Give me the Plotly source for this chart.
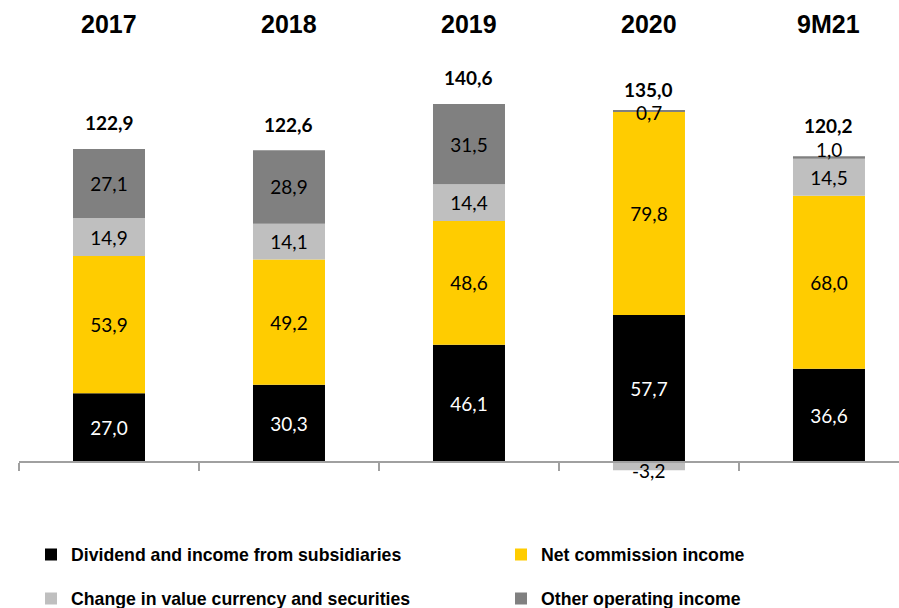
import plotly.graph_objects as go

# Operating income breakdown by period
categories = ["2017", "2018", "2019", "2020", "9M21"]
dividend_income = [27.0, 30.3, 46.1, 57.7, 36.6]
net_commission = [53.9, 49.2, 48.6, 79.8, 68.0]
change_in_value = [14.9, 14.1, 14.4, -3.2, 14.5]
other_operating = [27.1, 28.9, 31.5, 0.7, 1.0]
totals = [122.9, 122.6, 140.6, 135.0, 120.2]

series = [
    ("Dividend and income from subsidiaries", dividend_income, "#000000", "#ffffff"),
    ("Net commission income", net_commission, "#ffcc00", "#000000"),
    ("Change in value currency and securities", change_in_value, "#bfbfbf", "#000000"),
    ("Other operating income", other_operating, "#808080", "#000000"),
]

VALUE_FONT = "Lato, Noto Sans, sans-serif"
HEAD_FONT = "Liberation Sans, Arial, sans-serif"
SMALL = 5.0  # segments thinner than this get their label outside the bar


def fmt(v):
    return f"{v:.1f}".replace(".", ",")


legend_ids = ["legend", "legend2", "legend3", "legend4"]

fig = go.Figure()
for (name, vals, color, txtcolor), leg in zip(series, legend_ids):
    fig.add_trace(go.Bar(
        name=name,
        x=categories,
        y=vals,
        width=0.4,
        marker=dict(color=color, line=dict(width=0)),
        text=["" if abs(v) < SMALL else fmt(v) for v in vals],
        textposition="inside",
        insidetextanchor="middle",
        constraintext="none",
        textangle=0,
        textfont=dict(family=VALUE_FONT, size=19, color=txtcolor),
        legend=leg,
        hoverinfo="skip",
    ))

# cumulative stack ends (positive and negative stacks kept apart)
pos_top = [0.0] * len(categories)
neg_bottom = [0.0] * len(categories)
small_shift = {(3, 3): -2, (3, 4): 7, (2, 3): 0}
annotations = []
for si, (name, vals, color, txtcolor) in enumerate(series):
    for ci, v in enumerate(vals):
        if v >= 0:
            pos_top[ci] += v
            end = pos_top[ci]
        else:
            neg_bottom[ci] += v
            end = neg_bottom[ci]
        if abs(v) < SMALL:
            annotations.append(dict(
                x=ci, y=end, xref="x", yref="y",
                text=fmt(v), showarrow=False, yanchor="middle",
                yshift=small_shift.get((si, ci), 0),
                font=dict(family=VALUE_FONT, size=19, color="#000000"),
            ))

# totals above each stack
total_shift = [27, 26, 27, 21, 31]
for ci, t in enumerate(totals):
    annotations.append(dict(
        x=ci, y=pos_top[ci], xref="x", yref="y",
        text=fmt(t), showarrow=False, yanchor="middle", yshift=total_shift[ci],
        font=dict(family=VALUE_FONT, size=19, color="#000000", weight="bold"),
    ))

# period headers along the top
for ci, c in enumerate(categories):
    annotations.append(dict(
        x=ci, y=1.0818, xref="x", yref="paper", text=c, showarrow=False,
        yanchor="middle",
        font=dict(family=HEAD_FONT, size=25, color="#000000", weight="bold"),
    ))

legend_style = dict(
    orientation="h", xref="container", yref="container",
    xanchor="left", yanchor="middle",
    font=dict(family=HEAD_FONT, size=17.7, color="#000000", weight="bold"),
    bgcolor="rgba(0,0,0,0)",
)
# two columns, two rows
legend_pos = [(31, 555), (501, 555), (31, 599), (501, 599)]
legends = {
    lid: dict(legend_style, x=px / 899, y=1 - py / 608)
    for lid, (px, py) in zip(legend_ids, legend_pos)
}

fig.update_layout(
    width=899, height=608, autosize=False,
    margin=dict(l=19, r=0, t=60, b=108, pad=0),
    barmode="relative",
    plot_bgcolor="#ffffff", paper_bgcolor="#ffffff",
    showlegend=True,
    annotations=annotations,
    xaxis=dict(
        type="category", categoryorder="array", categoryarray=categories,
        range=[-0.5, 4.389], showticklabels=False,
        tickson="boundaries", ticks="outside", ticklen=8, tickwidth=1.5,
        tickcolor="#a0a0a0", showline=True, linecolor="#a0a0a0", linewidth=1.5,
        showgrid=False, zeroline=False, anchor="free", position=(500 - 462) / 440,
    ),
    yaxis=dict(range=[-14.92, 157.9], visible=False, showgrid=False, zeroline=False),
    **legends,
)

fig.write_html("out.html")
